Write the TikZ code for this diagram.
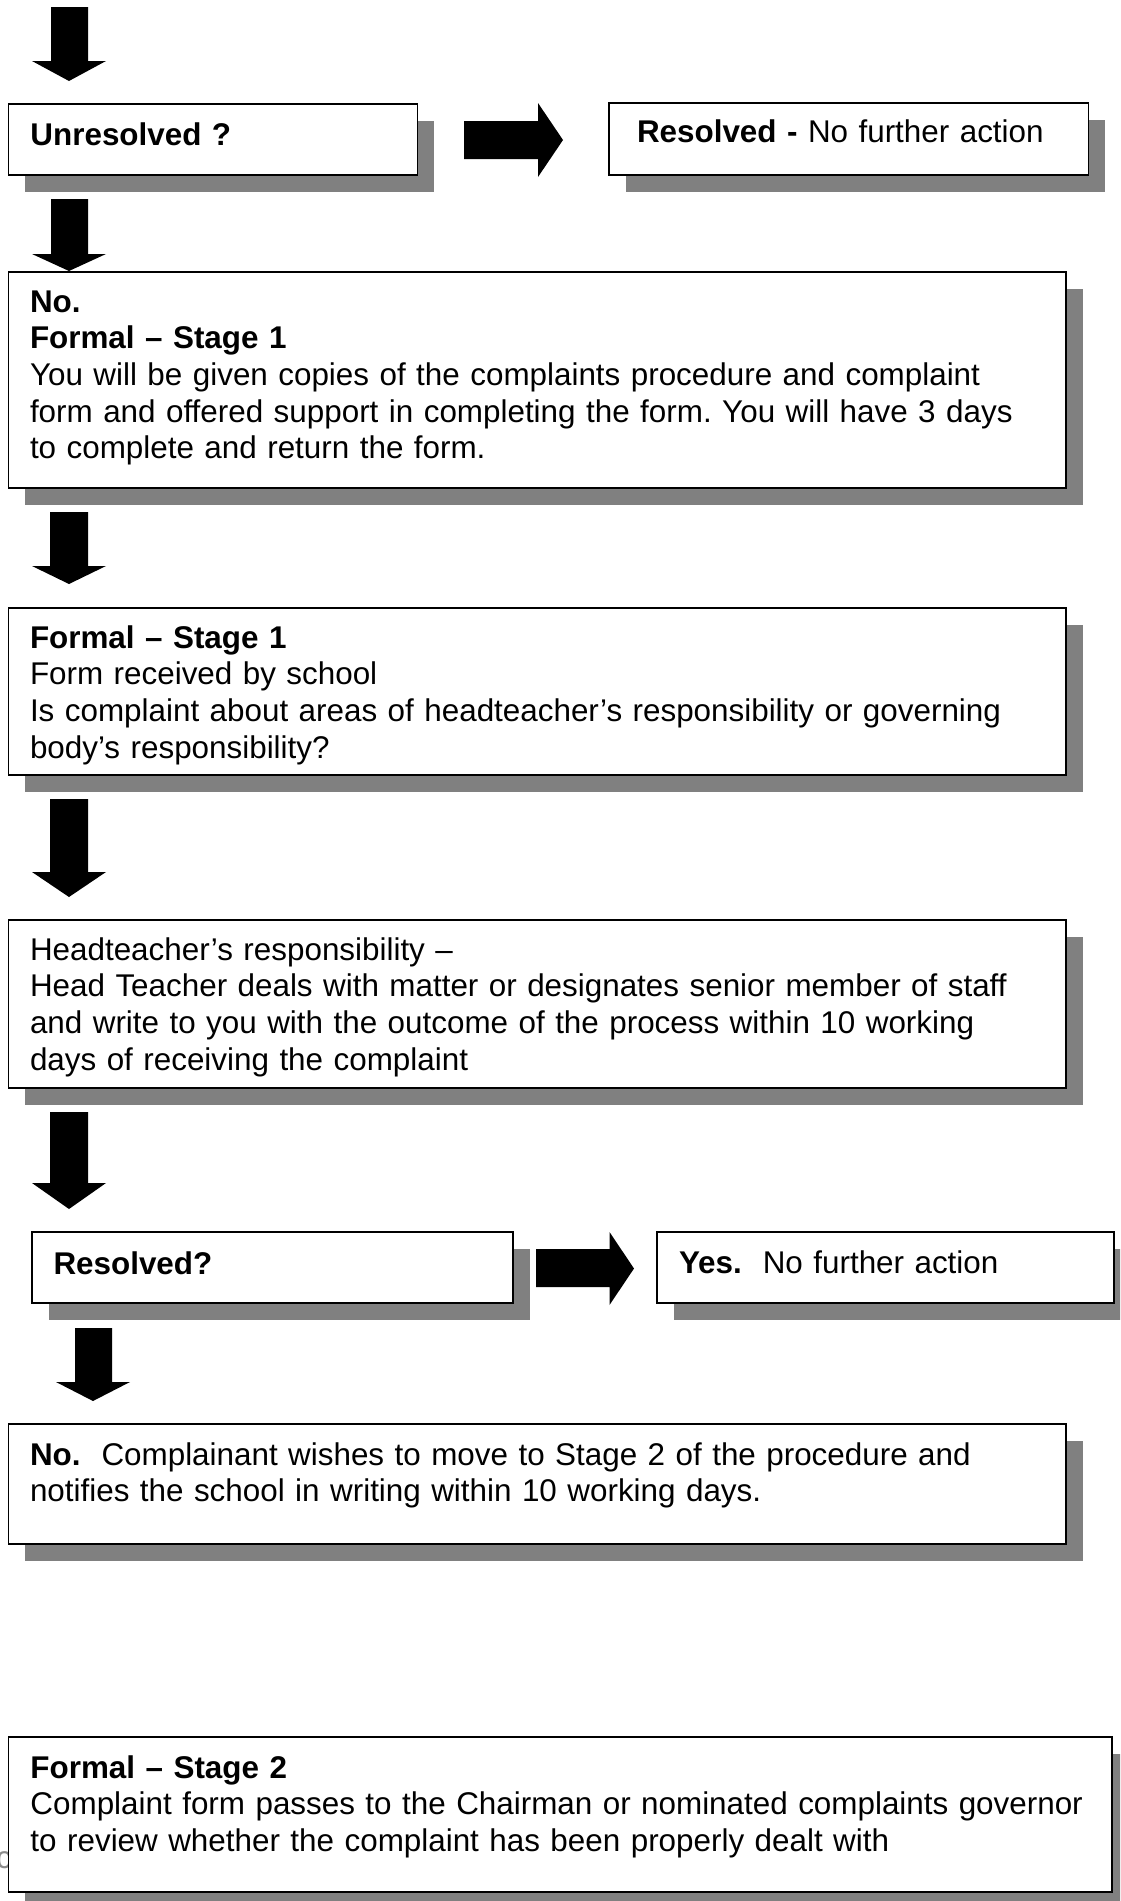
\documentclass[tikz,border=0pt]{standalone}
\usepackage{fontspec}
\setmainfont{Liberation Sans}
\frenchspacing
\definecolor{shadowgray}{HTML}{808080}
\definecolor{fraggray}{HTML}{8C8C8C}
\tikzset{
  boxstyle/.style={draw=black, line width=1.6pt, fill=white, inner sep=0pt, outer sep=0pt},
  shadowstyle/.style={fill=shadowgray},
  txt/.style={anchor=base west, inner sep=0pt, outer sep=0pt, align=left, text width=1090pt, font=\fontsize{31.4}{36.7}\selectfont},
  blk/.style={fill=black}
}
% name, x1, y1, x2, y2
\newcommand\flowbox[5]{%
  \fill[shadowstyle] ({#2+16.5},{#3+16.5}) rectangle ({#4+16.5},{#5+16.5});
  \node[boxstyle, anchor=north west, minimum width={#4-#2}, minimum height={#5-#3}] (#1) at (#2,#3) {};
}
% down arrow: shaft x1, shaft x2, head x1, head x2, y top, y head base, y tip
\newcommand\darrow[7]{%
  \fill[blk] (#1,#5) -- (#2,#5) -- (#2,#6) -- (#4,#6) -- ({(#3+#4)/2},#7) -- (#3,#6) -- (#1,#6) -- cycle;
}
% right arrow: x left, x head base, x tip, shaft y1, shaft y2, head y1, head y2
\newcommand\rarrow[7]{%
  \fill[blk] (#1,#4) -- (#2,#4) -- (#2,#6) -- (#3,{(#6+#7)/2}) -- (#2,#7) -- (#2,#5) -- (#1,#5) -- cycle;
}
\begin{document}
\begin{tikzpicture}[x=1pt,y=-1pt]
\useasboundingbox (0,0) rectangle (1120,1901);
\clip (0,0) rectangle (1120,1901);

% fragment of text hidden behind the last box
\node[txt, text=fraggray] (frag) at (-4,1868) {co};

% arrows
\darrow{51}{88}{32}{106}{7}{61}{81}
\rarrow{464}{538}{563}{121}{159}{103}{177}
\darrow{51}{88}{32}{106}{199}{254}{271}
\darrow{50}{88}{32}{106}{512}{566}{584}
\darrow{50}{88}{32}{106}{799}{872}{897}
\darrow{50}{88}{32}{106}{1112}{1183}{1209}
\rarrow{536}{609.5}{634}{1249}{1287}{1232}{1305}
\darrow{75}{112}{56}{130}{1328}{1382}{1401}

% boxes
\flowbox{unres}{8.5}{104}{417.5}{175}
\flowbox{res}{609}{103}{1088.5}{175}
\flowbox{st1a}{8.5}{272}{1066}{488}
\flowbox{st1b}{8.5}{608}{1066}{775}
\flowbox{head}{8.5}{920}{1066}{1088}
\flowbox{resq}{32}{1232}{513}{1303}
\flowbox{yes}{657}{1232}{1114}{1303}
\flowbox{no}{8.5}{1424}{1066}{1544}
\flowbox{st2}{8.5}{1737}{1112}{1892}

% texts
\node[txt] (t-unres) at (30.5,145) {\textbf{Unresolved ?}};
\node[txt] (t-res) at (637,142) {\textbf{Resolved -} No further action};
\node[txt] (t-st1a) at (30,312) {\textbf{No.}\\
\textbf{Formal – Stage 1}\\
You will be given copies of the complaints procedure and complaint\\
form and offered support in completing the form. You will have 3 days\\
to complete and return the form.};
\node[txt] (t-st1b) at (30,648) {\textbf{Formal – Stage 1}\\
Form received by school\\
Is complaint about areas of headteacher’s responsibility or governing\\
body’s responsibility?};
\node[txt] (t-head) at (30,960) {Headteacher’s responsibility –\\
Head Teacher deals with matter or designates senior member of staff\\
and write to you with the outcome of the process within 10 working\\
days of receiving the complaint};
\node[txt] (t-resq) at (53.5,1274) {\textbf{Resolved?}};
\node[txt] (t-yes) at (679,1273) {\textbf{Yes.}\ \ No further action};
\node[txt] (t-no) at (30,1465) {\textbf{No.}\ \ Complainant wishes to move to Stage 2 of the procedure and\\
notifies the school in writing within 10 working days.};
\node[txt] (t-st2) at (30.5,1778) {\textbf{Formal – Stage 2}\\
Complaint form passes to the Chairman or nominated complaints governor\\
to review whether the complaint has been properly dealt with};
\end{tikzpicture}
\end{document}
